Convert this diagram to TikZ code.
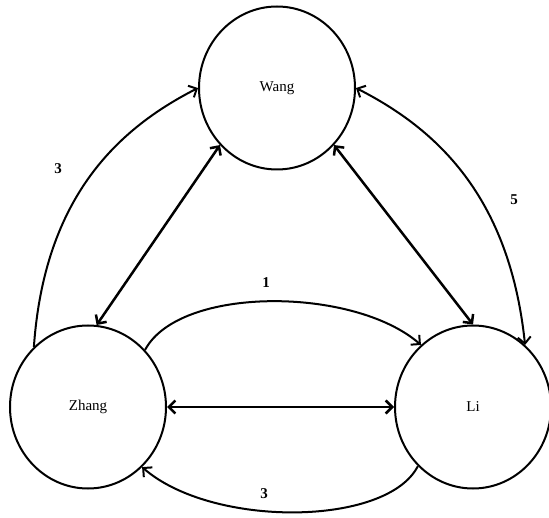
\documentclass[tikz,border=0pt]{standalone}
\usepackage{fontspec}
\setmainfont{Liberation Serif}
\usetikzlibrary{arrows.meta,shapes.geometric}
\tikzset{
  barb/.tip={Straight Barb[length=6.5pt,width=13pt]},
  person/.style={draw, ellipse, line width=2pt, minimum width=156pt,
    minimum height=163pt, inner sep=0pt, font=\fontsize{15}{17}\selectfont},
  link/.style={line width=2pt, arrows={-barb}},
  twoway/.style={line width=2.5pt, arrows={barb-barb}},
  twowaythin/.style={line width=2pt, arrows={barb-barb}},
  weight/.style={font=\fontsize{15}{17}\selectfont\bfseries}
}
\begin{document}
\begin{tikzpicture}[x=1pt,y=1pt]
  \useasboundingbox (0,0) rectangle (549,517);

  % people
  \node[person] (wang)  at (277,429) {Wang};
  \node[person] (zhang) at (88,110)  {Zhang};
  \node[person] (li)    at (473,110) {Li};

  % direct two-way links
  \draw[twoway] (zhang.84) -- (wang.225);
  \draw[twoway] (li.90) -- (wang.315);
  \draw[twoway] (zhang.east) -- (li.west);

  % weighted curved links
  \draw[link] (zhang.132) .. controls +(86:150) and +(207:90) .. (wang.west);
  \draw[twowaythin] (wang.east) .. controls +(333:90) and +(96:150) .. (li.50);
  \draw[link] (zhang.45) .. controls +(62:73) and +(139:89) .. (li.130);
  \draw[link] (li.227) .. controls +(243:68) and +(319:93) .. (zhang.312);

  % weights
  \node[weight] (w1) at (58,348)  {3};
  \node[weight] (w2) at (514,317) {5};
  \node[weight] (w3) at (266,234) {1};
  \node[weight] (w4) at (264,23)  {3};
\end{tikzpicture}
\end{document}
